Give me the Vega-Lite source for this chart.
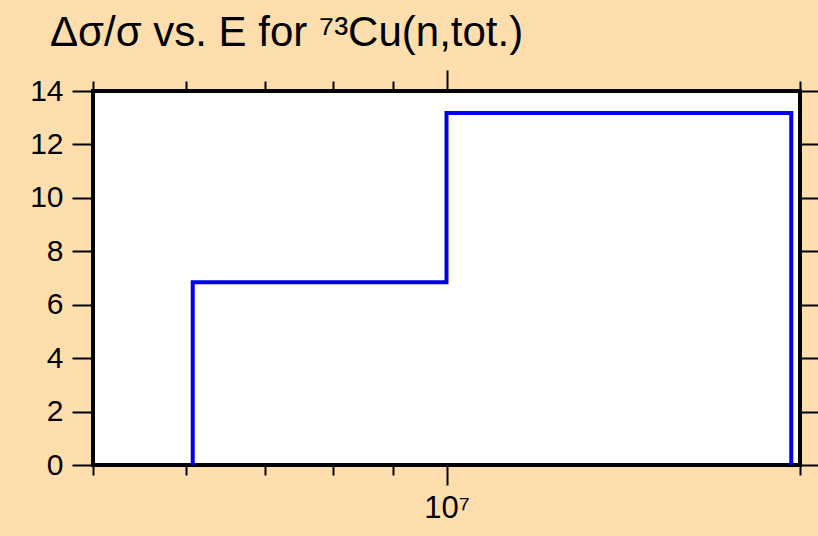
{
  "$schema": "https://vega.github.io/schema/vega-lite/v6.json",
  "autosize": "none",
  "padding": {"left": 93, "top": 91, "right": 18, "bottom": 71},
  "width": 707,
  "height": 374,
  "background": "#FFDEAD",
  "config": {
    "view": {"stroke": "black", "strokeWidth": 4, "fill": "white"},
    "font": "Liberation Sans",
    "axis": {
      "domain": false,
      "grid": false,
      "tickColor": "black",
      "tickWidth": 2,
      "labelFont": "Liberation Sans",
      "labelColor": "black",
      "labelFontSize": 30
    }
  },
  "title": {
    "text": "Δσ/σ vs. E for ⁷³Cu(n,tot.)",
    "anchor": "start",
    "frame": "group",
    "dx": -43,
    "dy": 19,
    "offset": 0,
    "baseline": "alphabetic",
    "font": "Liberation Sans",
    "fontSize": 42,
    "fontWeight": "normal",
    "color": "black"
  },
  "data": {
    "values": [
      {"i": 0, "E": 6080000, "dsig": 0},
      {"i": 1, "E": 6080000, "dsig": 6.84},
      {"i": 2, "E": 10000000, "dsig": 13.18},
      {"i": 3, "E": 19660000, "dsig": 0}
    ]
  },
  "resolve": {"axis": {"x": "independent", "y": "independent"}},
  "layer": [
    {
      "mark": {"type": "line", "interpolate": "step-after", "color": "#0000ee", "strokeWidth": 4, "clip": true},
      "encoding": {
        "x": {
          "field": "E", "type": "quantitative",
          "scale": {"type": "log", "domain": [5000000, 20000000], "nice": false},
          "axis": {
            "title": null,
            "orient": "bottom",
            "values": [5000000, 6000000, 7000000, 8000000, 9000000, 10000000, 20000000],
            "tickSize": {"condition": {"test": "datum.value == 10000000", "value": 20}, "value": 10},
            "labelExpr": "datum.value == 10000000 ? '10⁷' : ''",
            "labelOverlap": false,
            "labelBound": false,
            "labelFlush": false,
            "labelPadding": 8,
            "labelFontSize": 31
          }
        },
        "y": {
          "field": "dsig", "type": "quantitative",
          "scale": {"domain": [0, 14], "nice": false},
          "axis": {
            "title": null,
            "orient": "left",
            "values": [0, 2, 4, 6, 8, 10, 12, 14],
            "tickSize": 21,
            "labelPadding": 9
          }
        },
        "order": {"field": "i"}
      }
    },
    {
      "mark": {"type": "line", "interpolate": "step-after", "strokeOpacity": 0},
      "encoding": {
        "x": {
          "field": "E", "type": "quantitative",
          "axis": {
            "title": null,
            "orient": "top",
            "values": [5000000, 6000000, 7000000, 8000000, 9000000, 10000000, 20000000],
            "tickSize": {"condition": {"test": "datum.value == 10000000", "value": 21}, "value": 10},
            "labels": false
          }
        },
        "y": {
          "field": "dsig", "type": "quantitative",
          "axis": {
            "title": null,
            "orient": "right",
            "values": [0, 2, 4, 6, 8, 10, 12, 14],
            "tickSize": 21,
            "labels": false
          }
        },
        "order": {"field": "i"}
      }
    }
  ]
}
